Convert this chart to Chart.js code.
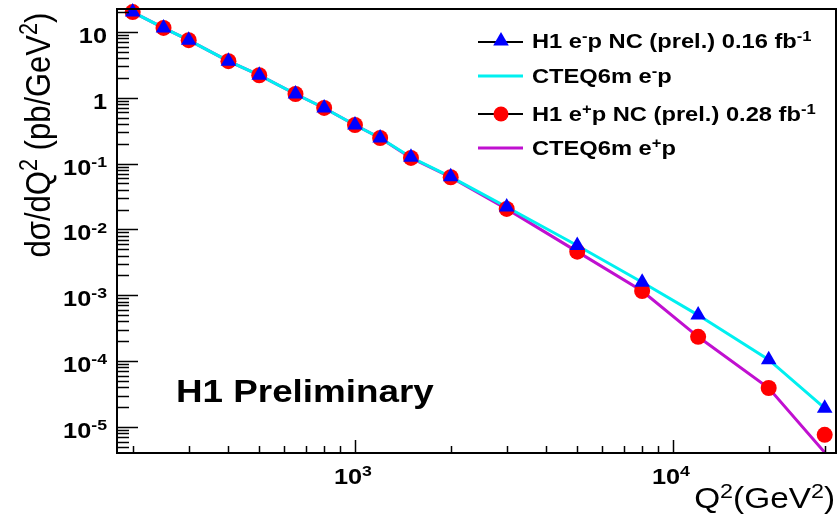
<!DOCTYPE html>
<html>
<head>
<meta charset="utf-8">
<script src="https://cdn.jsdelivr.net/npm/chart.js@4/dist/chart.umd.min.js"></script>
<style>
  html, body { margin: 0; padding: 0; background: #fff; }
</style>
</head>
<body>
<canvas id="myChart" width="839" height="519"></canvas>
<script>
// Q^2 bins (GeV^2) and measured / predicted cross sections (pb/GeV^2)
const q2Bins = [200, 250, 300, 400, 500, 650, 800, 1000, 1200, 1500, 2000, 3000, 5000, 8000, 12000, 20000, 30000];
const eMinusData = [20.0, 11.5, 7.5, 3.6, 2.2, 1.14, 0.70, 0.386, 0.245, 0.125, 0.063, 0.0219, 0.0057, 0.00158, 0.00050, 1.05e-4, 1.93e-5];
const ePlusData  = [20.0, 11.5, 7.5, 3.6, 2.2, 1.14, 0.70, 0.386, 0.245, 0.122, 0.062, 0.0205, 0.0046, 0.00116, 0.000234, 3.9e-5, 7.6e-6];
const cteqEMinus = [20.0, 11.5, 7.5, 3.6, 2.2, 1.14, 0.70, 0.386, 0.245, 0.125, 0.063, 0.0219, 0.0057, 0.00158, 0.00050, 1.05e-4, 1.93e-5];
const cteqEPlus  = [20.0, 11.5, 7.5, 3.6, 2.2, 1.14, 0.70, 0.386, 0.245, 0.122, 0.062, 0.0205, 0.0046, 0.00116, 0.000234, 3.9e-5, 4.1e-6];
const yTickPowers = [1, 0, -1, -2, -3, -4, -5];
const xTickPowers = [3, 4];

const FONT = '"Liberation Sans", Arial, Helvetica, sans-serif';
const SX = 1.15; // the picture is stretched a little sideways

function toPoints(vals) {
  return q2Bins.map((q, i) => ({ x: q, y: vals[i] }));
}

// draw text with superscript parts: parts = [[text, isSup], ...]
function drawRich(c, parts, x, y, size, weight, align, sx, sy) {
  const supSize = size * 0.7;
  let w = 0;
  parts.forEach(([t, sup]) => {
    c.font = weight + ' ' + (sup ? supSize : size) + 'px ' + FONT;
    w += c.measureText(t).width;
  });
  c.save();
  c.translate(x, y);
  c.scale(sx, sy);
  let cx = align === 'right' ? -w : align === 'center' ? -w / 2 : 0;
  c.textBaseline = 'alphabetic';
  c.textAlign = 'left';
  parts.forEach(([t, sup]) => {
    c.font = weight + ' ' + (sup ? supSize : size) + 'px ' + FONT;
    c.fillText(t, cx, sup ? -size * 0.36 : 0);
    cx += c.measureText(t).width;
  });
  c.restore();
}

function powLabel(p) {
  if (p === 1) return [['10', false]];
  if (p === 0) return [['1', false]];
  return [['10', false], [String(p), true]];
}

function triangle(c, x, y, r) {
  c.beginPath();
  c.moveTo(x, y - r);
  c.lineTo(x + r * 0.866, y + r * 0.5);
  c.lineTo(x - r * 0.866, y + r * 0.5);
  c.closePath();
  c.fill();
}

const rootStyle = {
  id: 'rootStyle',
  afterDraw(chart) {
    const c = chart.ctx;
    const a = chart.chartArea;
    const xs = chart.scales.x;
    const ys = chart.scales.y;
    c.save();
    c.strokeStyle = '#000';
    c.fillStyle = '#000';

    // frame
    c.lineWidth = 2;
    c.strokeRect(a.left, a.top, a.right - a.left, a.bottom - a.top);

    // y ticks (inside, on the left)
    c.lineWidth = 1.5;
    for (let p = -7; p <= 2; p++) {
      for (let k = 1; k <= 9; k++) {
        const v = k * Math.pow(10, p);
        if (v < ys.min || v > ys.max) continue;
        const py = Math.round(ys.getPixelForValue(v)) + 0.5;
        c.beginPath();
        c.moveTo(a.left, py);
        c.lineTo(a.left + (k === 1 ? 21 : 12), py);
        c.stroke();
      }
    }
    // x ticks (inside, on the bottom)
    for (let p = 2; p <= 4; p++) {
      for (let k = 1; k <= 9; k++) {
        const v = k * Math.pow(10, p);
        if (v < xs.min || v > xs.max) continue;
        const px = Math.round(xs.getPixelForValue(v)) + 0.5;
        c.beginPath();
        c.moveTo(px, a.bottom);
        c.lineTo(px, a.bottom - (k === 1 ? 13 : 7));
        c.stroke();
      }
    }

    // tick labels
    yTickPowers.forEach(p => {
      const py = ys.getPixelForValue(Math.pow(10, p));
      drawRich(c, powLabel(p), 107, py + 11, 22, 'bold', 'right', SX, 1);
    });
    xTickPowers.forEach(p => {
      const px = xs.getPixelForValue(Math.pow(10, p));
      drawRich(c, powLabel(p), px - 2, 484, 22, 'bold', 'center', SX, 1);
    });

    // axis titles
    drawRich(c, [['Q', false], ['2', true], ['(GeV', false], ['2', true], [')', false]],
      835, 508, 29, 'normal', 'right', SX, 1);
    c.save();
    c.translate(50, 135);
    c.rotate(-Math.PI / 2);
    drawRich(c, [['d\u03c3/dQ', false], ['2', true], [' (pb/GeV', false], ['2', true], [')', false]],
      0, 0, 31, 'normal', 'center', 1, SX);
    c.restore();

    // label
    drawRich(c, [['H1 Preliminary', false]], 176, 402, 32, 'bold', 'left', SX, 1);

    // legend
    const lx0 = 478, lx1 = 523, tx = 532;
    c.lineWidth = 2;
    c.strokeStyle = '#000';
    c.beginPath(); c.moveTo(lx0, 42); c.lineTo(lx1, 42); c.stroke();
    c.fillStyle = '#0000ff';
    triangle(c, 501, 41, 9);
    c.beginPath(); c.moveTo(lx0, 114); c.lineTo(lx1, 114); c.stroke();
    c.fillStyle = '#ff0000';
    c.beginPath(); c.arc(501, 114, 7.5, 0, Math.PI * 2); c.fill();
    c.lineWidth = 3;
    c.strokeStyle = '#00f0f0';
    c.beginPath(); c.moveTo(lx0, 76); c.lineTo(lx1, 76); c.stroke();
    c.strokeStyle = '#c010d0';
    c.beginPath(); c.moveTo(lx0, 148); c.lineTo(lx1, 148); c.stroke();

    c.fillStyle = '#000';
    drawRich(c, [['H1 e', false], ['-', true], ['p NC (prel.) 0.16 fb', false], ['-1', true]], tx, 48, 20.6, 'bold', 'left', SX, 1);
    drawRich(c, [['CTEQ6m e', false], ['-', true], ['p', false]], tx, 83, 20.6, 'bold', 'left', SX, 1);
    drawRich(c, [['H1 e', false], ['+', true], ['p NC (prel.) 0.28 fb', false], ['-1', true]], tx, 121, 20.6, 'bold', 'left', SX, 1);
    drawRich(c, [['CTEQ6m e', false], ['+', true], ['p', false]], tx, 155, 20.6, 'bold', 'left', SX, 1);

    c.restore();
  }
};

const ctx = document.getElementById('myChart');
new Chart(ctx, {
  type: 'line',
  data: {
    datasets: [
      {
        label: 'H1 e-p NC (prel.) 0.16 fb-1',
        data: toPoints(eMinusData),
        showLine: false,
        pointStyle: 'triangle',
        pointRadius: 9,
        pointBackgroundColor: '#0000ff',
        pointBorderColor: '#0000ff',
        pointBorderWidth: 0,
        clip: false,
      },
      {
        label: 'H1 e+p NC (prel.) 0.28 fb-1',
        data: toPoints(ePlusData),
        showLine: false,
        pointStyle: 'circle',
        pointRadius: 8,
        pointBackgroundColor: '#ff0000',
        pointBorderColor: '#ff0000',
        pointBorderWidth: 0,
        clip: false,
      },
      {
        label: 'CTEQ6m e-p',
        data: toPoints(cteqEMinus),
        borderColor: '#00f0f0',
        borderWidth: 3,
        pointRadius: 0,
        fill: false,
        tension: 0,
      },
      {
        label: 'CTEQ6m e+p',
        data: toPoints(cteqEPlus),
        borderColor: '#c010d0',
        borderWidth: 3,
        pointRadius: 0,
        fill: false,
        tension: 0,
      },
    ],
  },
  options: {
    responsive: false,
    animation: false,
    devicePixelRatio: 1,
    layout: { autoPadding: false, padding: { left: 117, top: 9, right: 3, bottom: 66 } },
    plugins: { legend: { display: false }, tooltip: { enabled: false } },
    scales: {
      x: { type: 'logarithmic', min: 178.5, max: 32560, display: false },
      y: { type: 'logarithmic', min: 4.02e-6, max: 22.3, display: false },
    },
  },
  plugins: [rootStyle],
});
</script>
</body>
</html>
